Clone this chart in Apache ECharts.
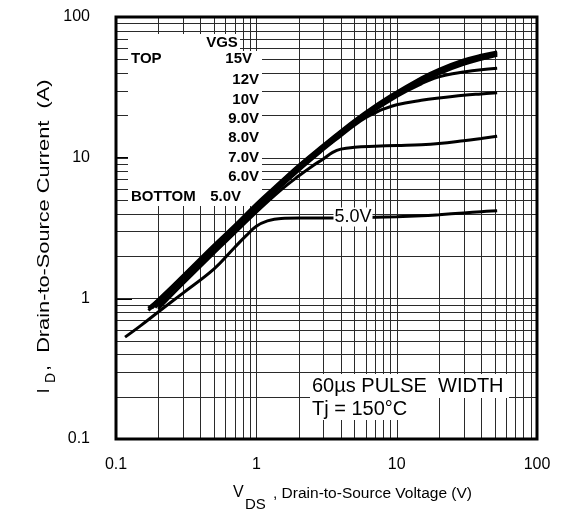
<!DOCTYPE html>
<html><head><meta charset="utf-8">
<script src="https://cdn.jsdelivr.net/npm/echarts@6/dist/echarts.min.js"></script>
<style>html,body{margin:0;padding:0;background:#fff}#c{width:564px;height:523px}</style>
</head><body><div id="c"></div>
<script>
// ---- data ----
const xTickLabels = [0.1, 1, 10, 100];
const yTickLabels = [0.1, 1, 10, 100];
const gridX = [0.2,0.3,0.4,0.5,0.6,0.7,0.8,0.9,1,2,3,4,5,6,7,8,9,10,20,30,40,50,60,70,80,90];
const gridY = [0.2,0.3,0.4,0.5,0.6,0.7,0.8,0.9,1,2,3,4,5,6,7,8,9,10,20,30,40,50,60,70,80,90];
const vgsNames = ['15V','12V','10V','9.0V','8.0V','7.0V','6.0V','5.0V'];
const c15 = [[0.17,0.85],[0.2,0.98],[0.3,1.45],[0.5,2.4],[0.7,3.3],[1,4.7],[1.5,6.8],[2,8.8],[3,12.3],[4,15.5],[6,21],[9,27.5],[15,37],[20,42.5],[30,49.5],[40,53.5],[52,56.5]];
const c12 = [[0.175,0.86],[0.3,1.43],[0.5,2.35],[0.7,3.25],[1,4.6],[1.5,6.7],[2,8.7],[3,12.1],[4,15.3],[6,20.7],[9,27],[15,36.3],[20,41.8],[30,48.5],[40,52.5],[52,55.5]];
const c10 = [[0.18,0.85],[0.3,1.4],[0.5,2.3],[1,4.5],[2,8.5],[3,11.9],[4,15],[6,20.3],[9,26.5],[15,35.5],[20,40.8],[30,47.5],[40,51.5],[52,54.5]];
const c9 = [[0.19,0.86],[0.3,1.37],[0.5,2.25],[1,4.4],[2,8.3],[3,11.7],[4,14.8],[6,20],[9,26],[15,34.5],[20,39.5],[30,46],[40,50],[52,53.5]];
const c8 = [[0.2,0.88],[0.3,1.35],[0.5,2.2],[1,4.35],[2,8.2],[3,11.6],[4,14.6],[6,19.7],[9,25.5],[12,30],[15,33.5],[17,35.5],[20,37.5],[25,39.5],[30,40.7],[40,42.2],[52,43.3]];
const c7 = [[0.17,0.82],[0.3,1.33],[0.5,2.18],[1,4.3],[2,8.1],[3,11.4],[4,14.3],[5,17],[6,19.2],[7,20.8],[8,22.1],[10,23.8],[15,25.6],[20,26.6],[30,27.8],[40,28.4],[52,28.9]];
const c6 = [[0.2,0.84],[0.3,1.27],[0.5,2.1],[0.7,2.9],[1,4.1],[1.5,5.9],[2,7.4],[2.5,8.7],[3,9.8],[3.5,10.9],[4,11.5],[5,11.85],[7,12.05],[10,12.2],[15,12.35],[20,12.6],[30,13.2],[40,13.7],[52,14.2]];
const c5 = [[0.116,0.53],[0.15,0.64],[0.2,0.8],[0.3,1.09],[0.5,1.62],[0.7,2.3],[0.85,2.8],[1,3.25],[1.2,3.55],[1.5,3.7],[2,3.72],[3,3.72],[5,3.74],[10,3.8],[15,3.86],[20,3.93],[30,4.05],[40,4.13],[52,4.2]];
const curves = [c15, c12, c10, c9, c8, c7, c6, c5];

const chart = echarts.init(document.getElementById('c'), null, {renderer:'canvas'});
const FONT = 'Liberation Sans, Arial, sans-serif';
const X0 = xTickLabels[0], X1 = xTickLabels[xTickLabels.length-1];
const Y0 = yTickLabels[0], Y1 = yTickLabels[yTickLabels.length-1];

const series = [
  {
    type:'custom', z:1, silent:true, animation:false, clip:false,
    data: gridX.map(v => [v, 1]),
    renderItem: function(params, api){
      const v = api.value(0);
      const a = api.coord([v, Y0]), b = api.coord([v, Y1]);
      const x = Math.round(a[0]) + 0.5;
      return {type:'line', shape:{x1:x, y1:a[1], x2:x, y2:b[1]}, style:{stroke:'#2a2a2a', lineWidth:1}};
    }
  },
  {
    type:'custom', z:1, silent:true, animation:false, clip:false,
    data: gridY.map(v => [1, v]),
    renderItem: function(params, api){
      const v = api.value(1);
      const a = api.coord([X0, v]), b = api.coord([X1, v]);
      const y = Math.round(a[1]) + 0.5;
      return {type:'line', shape:{x1:a[0], y1:y, x2:b[0], y2:y}, style:{stroke:'#2a2a2a', lineWidth:1}};
    }
  }
];
curves.forEach((c, i) => series.push({
  name: vgsNames[i], type: 'line', data: c, smooth: 0.4, showSymbol: false, z: 5,
  lineStyle: {color: '#000', width: 3}, animation: false
}));

const legendRows = [
  {t:'15V', x:252, y:59}, {t:'12V', x:259, y:80}, {t:'10V', x:259, y:100}, {t:'9.0V', x:259, y:119},
  {t:'8.0V', x:259, y:138}, {t:'7.0V', x:259, y:158}, {t:'6.0V', x:259, y:177}
];
const LB = 'bold 15px ' + FONT;
const graphics = [
  {type:'rect', z:3, shape:{x:128, y:34, width:112, height:17}, style:{fill:'#fff'}},
  {type:'rect', z:3, shape:{x:128, y:51, width:134, height:155}, style:{fill:'#fff'}},
  {type:'rect', z:3, shape:{x:310, y:374, width:199, height:24}, style:{fill:'#fff'}},
  {type:'rect', z:3, shape:{x:310, y:398, width:104, height:22}, style:{fill:'#fff'}},
  {type:'text', z:4, x:222, y:43, style:{text:'VGS', font:LB, fill:'#000', align:'center', verticalAlign:'middle'}},
  {type:'text', z:4, x:131, y:59, style:{text:'TOP', font:LB, fill:'#000', align:'left', verticalAlign:'middle'}},
  {type:'text', z:4, x:131, y:197, style:{text:'BOTTOM', font:LB, fill:'#000', align:'left', verticalAlign:'middle'}},
  {type:'text', z:4, x:241, y:197, style:{text:'5.0V', font:LB, fill:'#000', align:'right', verticalAlign:'middle'}},
  {type:'text', z:7, x:353, y:217, style:{text:'5.0V', font:'18px '+FONT, fill:'#000', align:'center', verticalAlign:'middle', backgroundColor:'#fff', padding:[1,1,0,1]}},
  {type:'text', z:4, x:312, y:386, style:{text:'60\u00B5s PULSE  WIDTH', font:'20px '+FONT, fill:'#000', align:'left', verticalAlign:'middle'}},
  {type:'text', z:4, x:312, y:409, style:{text:'Tj = 150\u00B0C', font:'20px '+FONT, fill:'#000', align:'left', verticalAlign:'middle'}},
  {type:'text', z:4, x:233, y:493, style:{text:'V', font:'16px '+FONT, fill:'#000', align:'left', verticalAlign:'middle'}},
  {type:'text', z:4, x:245, y:505, style:{text:'DS', font:'15px '+FONT, fill:'#000', align:'left', verticalAlign:'middle'}},
  {type:'text', z:4, x:273, y:494, style:{text:', Drain-to-Source Voltage (V)', font:'15.5px '+FONT, fill:'#000', align:'left', verticalAlign:'middle'}},
  {type:'text', z:4, x:44, y:391, rotation:Math.PI/2, style:{text:'I', font:'17px '+FONT, fill:'#000', align:'center', verticalAlign:'middle'}},
  {type:'text', z:4, x:51, y:378, rotation:Math.PI/2, style:{text:'D', font:'14px '+FONT, fill:'#000', align:'center', verticalAlign:'middle'}},
  {type:'text', z:4, x:44, y:371, rotation:Math.PI/2, scaleX:1.28, style:{text:',  Drain-to-Source Current  (A)', font:'17px '+FONT, fill:'#000', align:'left', verticalAlign:'middle'}}
];
legendRows.forEach(r => graphics.push({type:'text', z:4, x:r.x, y:r.y, style:{text:r.t, font:LB, fill:'#000', align:'right', verticalAlign:'middle'}}));

chart.setOption({
  animation: false,
  backgroundColor: '#fff',
  grid: {left:116, right:27, top:17, bottom:84, show:true, borderColor:'#000', borderWidth:3, backgroundColor:'transparent', z:6},
  xAxis: {
    type:'log', logBase:10, min:X0, max:X1,
    axisLine:{show:false}, axisTick:{show:false}, splitLine:{show:false}, minorTick:{show:false},
    axisLabel:{color:'#000', fontSize:16, fontFamily:FONT, margin:18, formatter: v => String(v)}
  },
  yAxis: {
    type:'log', logBase:10, min:Y0, max:Y1,
    axisLine:{show:false}, splitLine:{show:false},
    axisTick:{show:true, inside:true, length:16, lineStyle:{color:'#000', width:2}},
    axisLabel:{color:'#000', fontSize:16, fontFamily:FONT, margin:26, formatter: v => String(v)}
  },
  series: series,
  graphic: graphics
});
</script></body></html>
